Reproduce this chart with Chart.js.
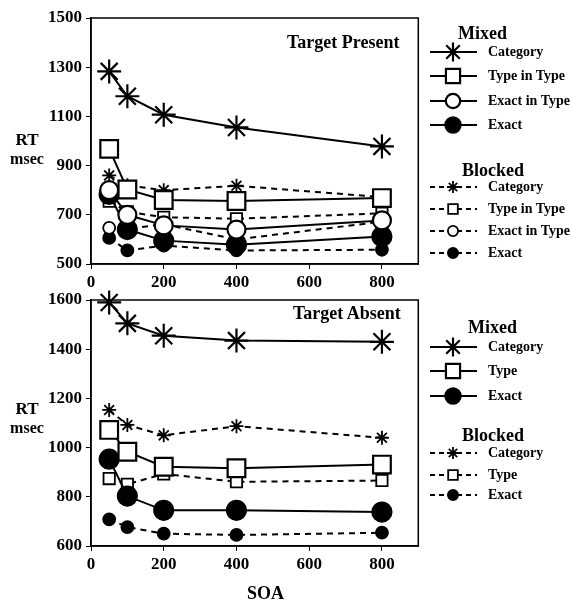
<!DOCTYPE html>
<html>
<head>
<meta charset="utf-8">
<script src="https://cdn.jsdelivr.net/npm/chart.js@4.4.1/dist/chart.umd.min.js"></script>
<style>
  body { margin: 0; background: #fff; }
  #wrap { position: relative; width: 572px; height: 600px; font-family: 'Liberation Serif', 'Times New Roman', serif; font-weight: bold; color: #000; }
  canvas.chart { position: absolute; left: 0; }
  .lbl { position: absolute; white-space: nowrap; line-height: 1; }
  .panel-title { font-size: 18px; }
  .ytitle { text-align: center; width: 50px; left: 2px; }
  .ytitle .rt { font-size: 17px; display: block; }
  .ytitle .ms { font-size: 16px; display: block; margin-top: 3px; }
  .ltitle { font-size: 18px; }
  .lrow { position: absolute; left: 428px; height: 24px; display: flex; align-items: center; white-space: nowrap; }
  .lrow canvas { margin-right: 10px; }
</style>
</head>
<body>
<div id="wrap">
  <canvas id="presentChart" class="chart" width="433" height="295" style="top:0"></canvas>
  <canvas id="absentChart" class="chart" width="433" height="295" style="top:282px"></canvas>

  <div class="lbl panel-title" style="left:287px; top:33px">Target Present</div>
  <div class="lbl panel-title" style="left:293px; top:304px">Target Absent</div>

  <div class="lbl ytitle" style="top:131px"><span class="rt">RT</span><span class="ms">msec</span></div>
  <div class="lbl ytitle" style="top:400px"><span class="rt">RT</span><span class="ms">msec</span></div>

  <div class="lbl" style="left:247px; top:584px; font-size:18px">SOA</div>
</div>

<script>
// SOA in msec
const soa = [50, 100, 200, 400, 800];
const xTicks = [0, 200, 400, 600, 800];
const presentTicks = [500, 700, 900, 1100, 1300, 1500];
const absentTicks = [600, 800, 1000, 1200, 1400, 1600];

// Target present, mixed condition
const presentMixedCategory = [1283, 1182, 1107, 1055, 978];
const presentMixedType = [968, 803, 760, 756, 768];
const presentMixedExactInType = [800, 700, 657, 640, 677];
const presentMixedExact = [783, 640, 595, 578, 612];
// Target present, blocked condition
const presentBlockedCategory = [860, 820, 800, 818, 772];
const presentBlockedType = [755, 712, 690, 684, 706];
const presentBlockedExactInType = [647, 643, 662, 600, 672];
const presentBlockedExact = [606, 555, 575, 555, 558];

// Target absent, mixed condition
const absentMixedCategory = [1590, 1505, 1455, 1435, 1430];
const absentMixedType = [1072, 983, 922, 916, 931];
const absentMixedExact = [953, 803, 745, 745, 738];
// Target absent, blocked condition
const absentBlockedCategory = [1153, 1092, 1050, 1087, 1040];
const absentBlockedType = [874, 851, 893, 861, 866];
const absentBlockedExact = [708, 677, 650, 645, 654];

Chart.defaults.font.family = "'Liberation Serif', 'Times New Roman', serif";
Chart.defaults.font.weight = 'bold';
Chart.defaults.color = '#000';

// marker look per series kind
const markers = {
  category: { style: 'star', big: 12, small: 7, fill: '#fff' },
  type: { style: 'rect', big: 12.5, small: 8, fill: '#fff' },
  exactInType: { style: 'circle', big: 9, small: 6, fill: '#fff' },
  exact: { style: 'circle', big: 9.5, small: 6, fill: '#000' }
};

function series(values, kind, blocked) {
  const m = markers[kind];
  return {
    data: values.map((v, i) => ({ x: soa[i], y: v })),
    borderColor: '#000',
    borderWidth: 2,
    borderDash: blocked ? [6, 5] : [],
    pointStyle: m.style,
    pointRadius: blocked ? m.small : m.big,
    pointBackgroundColor: m.fill,
    pointBorderColor: '#000',
    pointBorderWidth: blocked ? 1.8 : 2.2,
    tension: 0,
    clip: false
  };
}

const frame = {
  id: 'frame',
  afterDatasetsDraw(chart) {
    const a = chart.chartArea, ctx = chart.ctx;
    ctx.save();
    ctx.strokeStyle = '#000';
    ctx.lineWidth = 1.5;
    ctx.strokeRect(a.left, a.top, a.right - a.left, a.bottom - a.top);
    ctx.restore();
  }
};

function makeChart(id, datasets, yTicks) {
  return new Chart(document.getElementById(id), {
    type: 'line',
    data: { datasets },
    plugins: [frame],
    options: {
      responsive: false,
      animation: false,
      layout: { padding: { top: 18, right: 0, left: 0, bottom: 0 } },
      plugins: { legend: { display: false }, tooltip: { enabled: false } },
      scales: {
        x: {
          type: 'linear', min: 0, max: 900,
          afterBuildTicks: s => { s.ticks = xTicks.map(v => ({ value: v })); },
          afterFit: s => { s.height = 31; },
          grid: { drawOnChartArea: false, tickLength: 5, color: '#000' },
          border: { color: '#000', width: 1.5 },
          ticks: { font: { size: 17 }, padding: 3, maxRotation: 0, callback: v => String(v) }
        },
        y: {
          type: 'linear', min: yTicks[0], max: yTicks[yTicks.length - 1],
          afterBuildTicks: s => { s.ticks = yTicks.map(v => ({ value: v })); },
          afterFit: s => { s.width = 91; },
          grid: { drawOnChartArea: false, tickLength: 5, color: '#000' },
          border: { color: '#000', width: 1.5 },
          ticks: { font: { size: 17 }, padding: 4, callback: v => String(v) }
        }
      }
    }
  });
}

makeChart('presentChart', [
  series(presentMixedCategory, 'category', false),
  series(presentMixedType, 'type', false),
  series(presentMixedExactInType, 'exactInType', false),
  series(presentMixedExact, 'exact', false),
  series(presentBlockedCategory, 'category', true),
  series(presentBlockedType, 'type', true),
  series(presentBlockedExactInType, 'exactInType', true),
  series(presentBlockedExact, 'exact', true)
], presentTicks);

makeChart('absentChart', [
  series(absentMixedCategory, 'category', false),
  series(absentMixedType, 'type', false),
  series(absentMixedExact, 'exact', false),
  series(absentBlockedCategory, 'category', true),
  series(absentBlockedType, 'type', true),
  series(absentBlockedExact, 'exact', true)
], absentTicks);

// legends: HTML text with a small drawn sample of each line
const wrap = document.getElementById('wrap');

function legendTitle(text, left, centerY) {
  const d = document.createElement('div');
  d.className = 'lbl ltitle';
  d.textContent = text;
  d.style.left = left + 'px';
  d.style.top = (centerY - 9) + 'px';
  wrap.appendChild(d);
}

function legendRow(label, kind, blocked, centerY, fontSize) {
  const m = markers[kind];
  const row = document.createElement('div');
  row.className = 'lrow';
  row.style.top = (centerY - 12) + 'px';
  row.style.fontSize = fontSize + 'px';
  const c = document.createElement('canvas');
  c.width = 50; c.height = 24;
  const ctx = c.getContext('2d');
  ctx.strokeStyle = '#000';
  ctx.lineWidth = 2;
  ctx.setLineDash(blocked ? [5, 4] : []);
  ctx.beginPath();
  ctx.moveTo(2, 12); ctx.lineTo(49, 12);
  ctx.stroke();
  ctx.setLineDash([]);
  ctx.fillStyle = m.fill;
  ctx.lineWidth = blocked ? 1.8 : 2.2;
  const r = blocked ? m.small * 0.85 : m.big * 0.8;
  Chart.helpers.drawPoint(ctx, { pointStyle: m.style, radius: r, rotation: 0, borderWidth: ctx.lineWidth }, 25, 12);
  const span = document.createElement('span');
  span.textContent = label;
  row.append(c, span);
  wrap.appendChild(row);
}

legendTitle('Mixed', 458, 33);
legendRow('Category', 'category', false, 52, 14);
legendRow('Type in Type', 'type', false, 76, 14);
legendRow('Exact in Type', 'exactInType', false, 101, 14);
legendRow('Exact', 'exact', false, 125, 14);
legendTitle('Blocked', 462, 170);
legendRow('Category', 'category', true, 187, 14);
legendRow('Type in Type', 'type', true, 209, 14);
legendRow('Exact in Type', 'exactInType', true, 231, 14);
legendRow('Exact', 'exact', true, 253, 14);

legendTitle('Mixed', 468, 327);
legendRow('Category', 'category', false, 347, 14);
legendRow('Type', 'type', false, 371, 14);
legendRow('Exact', 'exact', false, 396, 14);
legendTitle('Blocked', 462, 435);
legendRow('Category', 'category', true, 453, 14);
legendRow('Type', 'type', true, 475, 14);
legendRow('Exact', 'exact', true, 495, 14);
</script>
</body>
</html>
